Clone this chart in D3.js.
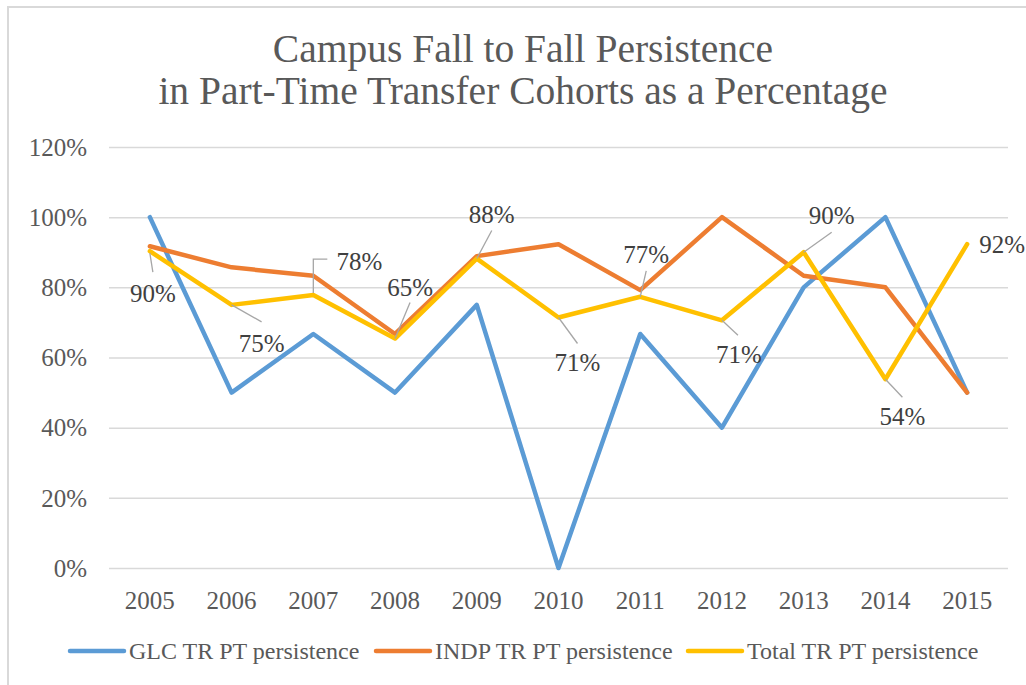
<!DOCTYPE html>
<html>
<head>
<meta charset="utf-8">
<script src="https://cdn.jsdelivr.net/npm/d3@7"></script>
<style>
  body { margin: 0; background: #fff; }
  text { font-family: "Liberation Serif", "DejaVu Serif", serif; }
</style>
</head>
<body>
<div id="chart"></div>
<script>
// data
const years = ["2005", "2006", "2007", "2008", "2009", "2010", "2011", "2012", "2013", "2014", "2015"];
const glc = [1.0, 0.5, 0.667, 0.5, 0.75, 0.0, 0.667, 0.4, 0.8, 1.0, 0.5];
const indp = [0.917, 0.857, 0.833, 0.667, 0.889, 0.923, 0.792, 1.0, 0.833, 0.8, 0.5];
const total = [0.903, 0.75, 0.778, 0.654, 0.882, 0.714, 0.773, 0.706, 0.9, 0.538, 0.923];
const yTicks = [0, 0.2, 0.4, 0.6, 0.8, 1.0, 1.2];
const seriesNames = ["GLC TR PT persistence", "INDP TR PT persistence", "Total TR PT persistence"];
const colors = ["#5b9bd5", "#ed7d31", "#ffc000"];
const titleLines = ["Campus Fall to Fall Persistence", "in Part-Time Transfer Cohorts as a Percentage"];

// where the data labels of the Total line sit, relative to their point
const labelPos = [
  {dx: 3, dy: 51, lead: [[0, 2], [3, 21]]},
  {dx: 30, dy: 47, lead: [[0, 0], [30, 17]]},
  {dx: 46, dy: -25, lead: [[0, -2], [0, -36], [14, -36]]},
  {dx: 15, dy: -43, lead: [[0, 0], [15, -36]]},
  {dx: 15, dy: -36, lead: [[0, 0], [15, -28]]},
  {dx: 19, dy: 53, lead: [[0, 0], [19, 26]]},
  {dx: 6, dy: -34, lead: [[0, 0], [6, -26]]},
  {dx: 17, dy: 43, lead: [[0, 0], [16, 15]]},
  {dx: 28, dy: -28, lead: [[0, 0], [28, -20]]},
  {dx: 17, dy: 46, lead: [[0, 0], [17, 18]]},
  {dx: 35, dy: 9, lead: null}
];

const width = 1026, height = 685;
const margin = {top: 147, right: 18, bottom: 117, left: 109};

const svg = d3.select("#chart").append("svg")
    .attr("width", width)
    .attr("height", height);

// chart border (only top and left visible in the reference)
svg.append("rect")
    .attr("x", 8).attr("y", 7)
    .attr("width", 1040).attr("height", 700)
    .attr("fill", "none")
    .attr("stroke", "#d9d9d9")
    .attr("stroke-width", 2);

svg.append("g").selectAll("text")
    .data(titleLines)
    .enter()
    .append("text")
    .attr("x", 523)
    .attr("y", (d, i) => 62 + i * 42)
    .attr("text-anchor", "middle")
    .attr("font-size", 39.5)
    .attr("fill", "#595959")
    .text(d => d);

const x = d3.scaleBand()
    .domain(years)
    .range([margin.left, width - margin.right]);
const y = d3.scaleLinear()
    .domain([0, 1.2])
    .range([height - margin.bottom, margin.top]);
const cx = d => x(d) + x.bandwidth() / 2;

// gridlines + y labels
const yAxis = d3.axisLeft(y)
    .tickValues(yTicks)
    .tickFormat(d3.format(".0%"))
    .tickSize(-(width - margin.right - margin.left))
    .tickPadding(22);
const gy = svg.append("g")
    .attr("transform", "translate(" + margin.left + ",0)")
    .call(yAxis);
gy.select(".domain").remove();
gy.selectAll("line").attr("stroke", "#d9d9d9").attr("stroke-width", 1.5);
gy.selectAll("text")
    .attr("font-size", 25)
    .attr("fill", "#595959")
    .attr("font-family", "Liberation Serif")
    .attr("dy", "0.33em");

// x labels
const xAxis = d3.axisBottom(x).tickSize(0).tickPadding(23);
const gx = svg.append("g")
    .attr("transform", "translate(0," + (height - margin.bottom) + ")")
    .call(xAxis);
gx.select(".domain").remove();
gx.selectAll("text")
    .attr("font-size", 25)
    .attr("fill", "#595959")
    .attr("font-family", "Liberation Serif");

// lines
const line = d3.line()
    .x((d, i) => cx(years[i]))
    .y(d => y(d));
const allSeries = [glc, indp, total];
svg.append("g").selectAll("path")
    .data(allSeries)
    .enter()
    .append("path")
    .attr("d", line)
    .attr("fill", "none")
    .attr("stroke", (d, i) => colors[i])
    .attr("stroke-width", 4.5)
    .attr("stroke-linejoin", "round")
    .attr("stroke-linecap", "round");

// data labels of the Total series
const labels = svg.append("g");
total.forEach((v, i) => {
    const px = cx(years[i]), py = y(v);
    const p = labelPos[i];
    if (p.lead) {
        labels.append("polyline")
            .attr("points", p.lead.map(q => (px + q[0]) + "," + (py + q[1])).join(" "))
            .attr("fill", "none")
            .attr("stroke", "#a6a6a6")
            .attr("stroke-width", 1.3);
    }
    labels.append("text")
        .attr("x", px + p.dx)
        .attr("y", py + p.dy)
        .attr("text-anchor", "middle")
        .attr("font-size", 25)
        .attr("fill", "#404040")
        .text(d3.format(".0%")(v));
});

// legend
const legendX = [70, 376, 688];
const legend = svg.append("g").selectAll("g")
    .data(seriesNames)
    .enter()
    .append("g")
    .attr("transform", (d, i) => "translate(" + legendX[i] + ",651)");
legend.append("line")
    .attr("x1", 0).attr("x2", 54)
    .attr("stroke", (d, i) => colors[i])
    .attr("stroke-width", 4.5)
    .attr("stroke-linecap", "round");
legend.append("text")
    .attr("x", 59)
    .attr("y", 8)
    .attr("font-size", 24)
    .attr("fill", "#595959")
    .text(d => d);
</script>
</body>
</html>
